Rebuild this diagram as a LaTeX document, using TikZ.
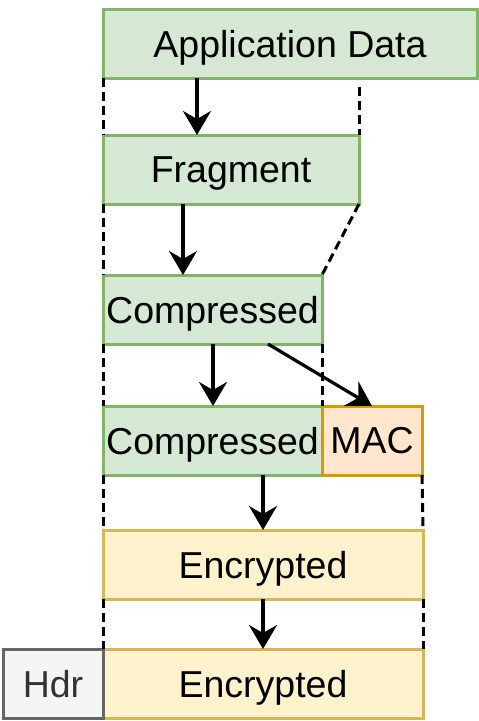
\documentclass[tikz,border=0pt]{standalone}
\usepackage{fontspec}
\setmainfont{Liberation Sans}
\definecolor{datafill}{HTML}{D5E8D4}
\definecolor{dataline}{HTML}{82B366}
\definecolor{macfill}{HTML}{FFE6CC}
\definecolor{macline}{HTML}{D79B00}
\definecolor{encfill}{HTML}{FFF2CC}
\definecolor{encline}{HTML}{D6B656}
\definecolor{hdrfill}{HTML}{F5F5F5}
\definecolor{hdrline}{HTML}{666666}
\definecolor{hdrtext}{HTML}{333333}
\usetikzlibrary{calc,positioning,arrows.meta}

\begin{document}
\begin{tikzpicture}[>={Stealth[length=24pt,width=28pt,inset=8pt]},
  every node/.style={font=\fontsize{37.5}{40}\selectfont},
  block/.style={line width=3pt, align=center, inner sep=0pt, outer sep=0pt, text depth=0pt, minimum height=69pt, anchor=north west},
  datablock/.style={block, draw=dataline, fill=datafill},
  macblock/.style={block, draw=macline, fill=macfill},
  encblock/.style={block, draw=encline, fill=encfill},
  hdrblock/.style={block, draw=hdrline, fill=hdrfill, text=hdrtext},
  flow/.style={->, line width=3.2pt},
  guide/.style={line width=3pt, dash pattern=on 9pt off 5pt}]

\useasboundingbox (0,0) rectangle (479pt,-721pt);

\node[datablock, minimum width=374pt] (app) at (103pt,-9pt) {Application Data};
\node[datablock, minimum width=256pt, below=57pt of app.south west, anchor=north west] (frag) {Fragment};
\node[datablock, minimum width=219pt, below=71pt of frag.south west, anchor=north west] (comp) {Compressed};
\node[datablock, minimum width=219pt, below=62pt of comp.south west, anchor=north west] (comp2) {Compressed};
\node[macblock, minimum width=100pt, right=0pt of comp2.north east, anchor=north west] (mac) {MAC};
\node[encblock, minimum width=320pt, below=55pt of comp2.south west, anchor=north west] (enc) {Encrypted};
\node[encblock, minimum width=320pt, below=50pt of enc.south west, anchor=north west] (enc2) {Encrypted};
\node[hdrblock, minimum width=100pt, left=0pt of enc2.north west, anchor=north east] (hdr) {Hdr};

% dashed guides
\draw[guide] (app.south west) -- (frag.north west);
\draw[guide] ([yshift=-9pt]frag.north east |- app.south) -- (frag.north east);
\draw[guide] (frag.south west) -- (comp.north west);
\draw[guide] (frag.south east) -- (comp.north east);
\draw[guide] (comp.south west) -- (comp2.north west);
\draw[guide] (comp.south east) -- (comp2.north east);
\draw[guide] (comp2.south west) -- (enc.north west);
\draw[guide] (mac.south east) -- (enc.north east);
\draw[guide] (enc.south west) -- (enc2.north west);
\draw[guide] (enc.south east) -- (enc2.north east);

% arrows
\coordinate (fragin) at ($(frag.north west)+(94pt,0)$);
\coordinate (compin) at ($(comp.north west)+(80pt,0)$);
\coordinate (comp2in) at ($(comp2.north west)+(110pt,0)$);
\coordinate (macout) at ($(comp.south west)+(165pt,0)$);
\draw[flow] (fragin |- app.south) -- (fragin);
\draw[flow] (compin |- frag.south) -- (compin);
\draw[flow] (comp2in |- comp.south) -- (comp2in);
\draw[flow] (macout) -- (mac.north);
\draw[flow] (enc.north |- comp2.south) -- (enc.north);
\draw[flow] (enc.south) -- (enc2.north);

\end{tikzpicture}
\end{document}
